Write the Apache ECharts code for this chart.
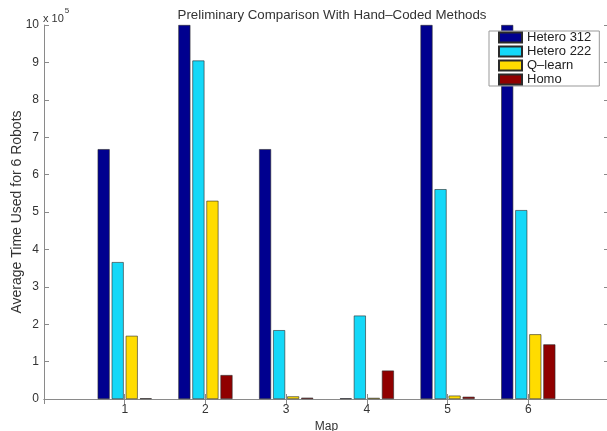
<!DOCTYPE html>
<html>
<head>
<meta charset="utf-8">
<script src="https://cdn.jsdelivr.net/npm/echarts@6/dist/echarts.min.js"></script>
<style>
  html, body { margin: 0; padding: 0; background: #fff; }
  #chart { width: 607px; height: 431px; }
</style>
</head>
<body>
<div id="chart"></div>
<script>
// Data (values in units of 10^5)
const maps = ['1', '2', '3', '4', '5', '6'];
const hetero312 = [6.68, 10, 6.68, 0.02, 10, 10];
const hetero222 = [3.66, 9.05, 1.84, 2.23, 5.61, 5.05];
const qlearn = [1.69, 5.30, 0.07, 0.03, 0.09, 1.73];
const homo = [0.02, 0.64, 0.035, 0.76, 0.06, 1.46];
const yTicks = [0, 1, 2, 3, 4, 5, 6, 7, 8, 9, 10];

// axis spans 0..7 (MATLAB style) : pad categories at both ends
const cats = ['0'].concat(maps, ['7']);
const pad = arr => [null].concat(arr, [null]);

const FONT = 'Liberation Sans, Arial, Helvetica, sans-serif';
const axisGray = '#8a8a8a';
const textCol = '#333';

const chart = echarts.init(document.getElementById('chart'), null, { renderer: 'canvas' });

const baseX = {
  type: 'category',
  data: cats,
  boundaryGap: false,
  axisLine: { show: true, lineStyle: { color: axisGray, width: 1 } },
  axisTick: { show: true, inside: true, length: 5, lineStyle: { color: axisGray } },
  splitLine: { show: false }
};
const baseY = {
  type: 'value',
  min: 0, max: 10, interval: 1,
  axisLine: { show: true, lineStyle: { color: axisGray, width: 1 } },
  axisTick: { show: true, inside: true, length: 5, lineStyle: { color: axisGray } },
  splitLine: { show: false }
};

const barStyle = (c) => ({ color: c, borderColor: '#2a2a2a', borderWidth: 0.6 });

const option = {
  backgroundColor: '#fff',
  animation: false,
  textStyle: { fontFamily: FONT },
  title: {
    text: 'Preliminary Comparison With Hand\u2013Coded Methods',
    left: 327, top: 4, textAlign: 'center',
    textStyle: { fontFamily: FONT, fontSize: 13.3, fontWeight: 'normal', color: textCol }
  },
  legend: {
    orient: 'vertical',
    left: 489, top: 31,
    padding: [0, 8, 0, 9],
    itemWidth: 23, itemHeight: 10, itemGap: 1,
    icon: 'rect',
    backgroundColor: '#fff',
    borderColor: '#999', borderWidth: 1, borderRadius: 0,
    textStyle: { fontFamily: FONT, fontSize: 13, color: '#222' },
    data: ['Hetero 312', 'Hetero 222', 'Q\u2013learn', 'Homo']
  },
  grid: { left: 44, top: 25, width: 565, height: 374, containLabel: false, outerBoundsMode: 'none' },
  xAxis: [
    Object.assign({}, baseX, {
      position: 'bottom',
      name: 'Map', nameLocation: 'middle', nameGap: 21,
      nameTextStyle: { fontFamily: FONT, fontSize: 12, color: textCol },
      axisLabel: {
        interval: (i) => i >= 1 && i <= maps.length,
        fontFamily: FONT, fontSize: 12, color: textCol, margin: 5
      }
    }),
    Object.assign({}, baseX, {
      position: 'top',
      axisLabel: { show: false }
    })
  ],
  yAxis: [
    Object.assign({}, baseY, {
      position: 'left',
      name: 'Average Time Used for 6 Robots', nameLocation: 'middle', nameGap: 20,
      nameMoveOverlap: false,
      nameTextStyle: { fontFamily: FONT, fontSize: 14, color: textCol },
      axisLabel: {
        fontFamily: FONT, fontSize: 12, color: textCol, margin: 5,
        customValues: yTicks
      }
    }),
    Object.assign({}, baseY, {
      position: 'right',
      axisLabel: { show: false }
    })
  ],
  graphic: [
    {
      type: 'text', left: 43, top: 7,
      style: {
        text: '{a|x 10}{b|5}',
        rich: {
          a: { fontFamily: FONT, fontSize: 11, fill: textCol, verticalAlign: 'bottom', padding: [6, 0, 0, 0] },
          b: { fontFamily: FONT, fontSize: 8, fill: textCol, verticalAlign: 'top', padding: [0, 0, 8, 1] }
        }
      }
    }
  ],
  series: [
    { name: 'Hetero 312', type: 'bar', data: pad(hetero312), barWidth: 12, barGap: '17%', itemStyle: barStyle('#00008f') },
    { name: 'Hetero 222', type: 'bar', data: pad(hetero222), barWidth: 12, barGap: '17%', itemStyle: barStyle('#14d8f8') },
    { name: 'Q\u2013learn', type: 'bar', data: pad(qlearn), barWidth: 12, barGap: '17%', itemStyle: barStyle('#ffdc00') },
    { name: 'Homo', type: 'bar', data: pad(homo), barWidth: 12, barGap: '17%', itemStyle: barStyle('#900000') }
  ]
};

chart.setOption(option);
</script>
</body>
</html>
